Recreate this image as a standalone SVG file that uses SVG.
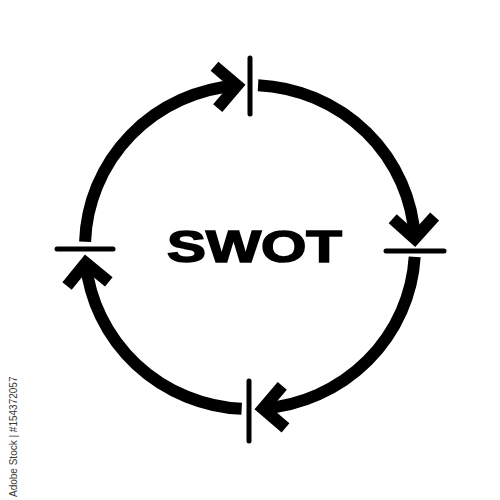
<svg xmlns="http://www.w3.org/2000/svg" width="500" height="500" viewBox="0 0 500 500">
  <style>
    .arc { fill: none; stroke: #000; stroke-width: 12; stroke-linecap: butt; marker-end: url(#chev); }
    .bar { stroke: #000; stroke-width: 5; stroke-linecap: round; }
    .label { font-family: "Liberation Sans", Arial, sans-serif; font-weight: bold; font-size: 45px; fill: #000; stroke: #000; stroke-width: 1.6; }
    .credit { font-family: "Liberation Sans", Arial, sans-serif; font-size: 10px; fill: #3a3a3a; }
  </style>
  <defs>
    <marker id="chev" markerUnits="userSpaceOnUse" orient="auto" refX="0" refY="0" markerWidth="60" markerHeight="60" viewBox="-30 -30 60 60" overflow="visible">
      <path d="M -21 -21 L 0 0 L -21 21" fill="none" stroke="#000" stroke-width="12" stroke-linejoin="miter" stroke-miterlimit="4"/>
    </marker>
  </defs>
  <rect width="500" height="500" fill="#fff"/>
  <g id="connectors">
    <path class="arc" d="M 258.06 85.19 A 165 162 0 0 1 414.77 238.52"/>
    <path class="arc" d="M 414.69 256.89 A 165 162 0 0 1 262.95 408.5"/>
    <path class="arc" d="M 241.65 408.8 A 165 162 0 0 1 85.8 263"/>
    <path class="arc" d="M 85.1 241.7 A 165 162 0 0 1 237.05 85.5"/>
  </g>
  <g id="bar-top"><line class="bar" x1="250" y1="58" x2="250" y2="114"/></g>
  <g id="bar-right"><line class="bar" x1="386" y1="251" x2="444" y2="251"/></g>
  <g id="bar-bottom"><line class="bar" x1="249" y1="381" x2="249" y2="441"/></g>
  <g id="bar-left"><line class="bar" x1="57" y1="249" x2="113" y2="249"/></g>
  <g id="swot">
    <text class="label" x="167" y="262" textLength="175" lengthAdjust="spacingAndGlyphs">SWOT</text>
  </g>
  <text class="credit" transform="translate(17,497) rotate(-90)">Adobe Stock | #154372057</text>
</svg>
